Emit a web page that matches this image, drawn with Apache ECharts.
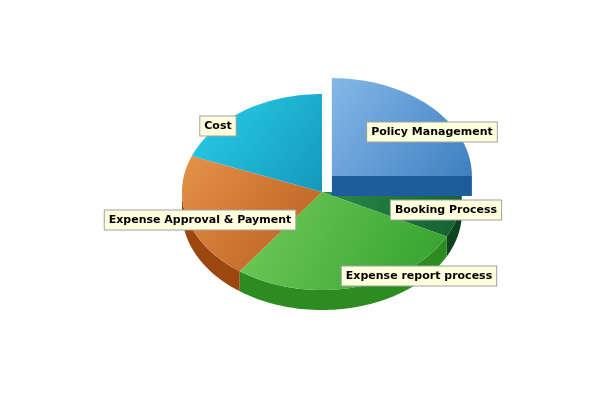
<!DOCTYPE html>
<html>
<head>
<meta charset="utf-8">
<script src="https://cdn.jsdelivr.net/npm/echarts@6/dist/echarts.min.js"></script>
<style>html,body{margin:0;background:#fff}#chart{width:600px;height:400px}</style>
</head>
<body>
<div id="chart"></div>
<script>
const categories = ['Policy Management', 'Booking Process', 'Expense report process', 'Expense Approval & Payment', 'Cost'];
const values = [25, 7.5, 27.5, 21, 19];
const exploded = [true, false, false, false, false];

const topColors = [['#84b8e8', '#3f7fc0'], ['#2a8a4a', '#146030'], ['#72cc5a', '#32a02c'], ['#e6924a', '#b65c1c'], ['#2ad0ea', '#1498bc']];
const sideColors = ['#1f5c9c', '#0c4420', '#2c8c22', '#9c4610', '#107c98'];
const labelPos = [[432, 132], [446, 210], [419, 276], [200, 220], [218, 126]];

const cx = 322, cy = 192, rx = 140, ry = 98, depth = 20;

function arc(ox, oy, a1, a2, dy) {
    const pts = [];
    const n = Math.max(2, Math.ceil((a2 - a1) / 0.03));
    for (let i = 0; i <= n; i++) {
        const t = a1 + (a2 - a1) * i / n;
        pts.push([ox + rx * Math.cos(t), oy + dy + ry * Math.sin(t)]);
    }
    return pts;
}

function renderItem() {
    const total = values.reduce((a, b) => a + b, 0);
    const sides = [], tops = [], labels = [];
    let start = -Math.PI / 2;
    values.forEach((v, i) => {
        const end = start + v / total * Math.PI * 2;
        const mid = (start + end) / 2;
        const ox = cx + (exploded[i] ? 14 * Math.cos(mid) : 0);
        const oy = cy + (exploded[i] ? 14 * Math.sin(mid) : 0) - (exploded[i] ? 6 : 0);
        // front wall, only the part facing viewer (0..PI)
        const ranges = [[start, end], [start + 2 * Math.PI, end + 2 * Math.PI], [start - 2 * Math.PI, end - 2 * Math.PI]];
        ranges.forEach(([s, e]) => {
            const a = Math.max(s, 0), b = Math.min(e, Math.PI);
            if (b > a) {
                const up = arc(ox, oy, a, b, 0);
                const down = arc(ox, oy, a, b, depth).reverse();
                sides.push({ type: 'polygon', z2: exploded[i] ? 5 : 1, shape: { points: up.concat(down) }, style: { fill: sideColors[i] } });
            }
        });
        const pts = [[ox, oy]].concat(arc(ox, oy, start, end, 0));
        // inner walls for the exploded slice
        if (exploded[i]) {
            [start, end].forEach(t => {
                const p = [ox + rx * Math.cos(t), oy + ry * Math.sin(t)];
                sides.push({ type: 'polygon', z2: 5, shape: { points: [[ox, oy], p, [p[0], p[1] + depth], [ox, oy + depth]] }, style: { fill: sideColors[i] } });
            });
        }
        tops.push({
            type: 'polygon', z2: exploded[i] ? 6 : 2, shape: { points: pts },
            style: { fill: new echarts.graphic.LinearGradient(0, 0, 1, 1, [{ offset: 0, color: topColors[i][0] }, { offset: 1, color: topColors[i][1] }]) }
        });
        labels.push({
            type: 'text', z2: 10, x: labelPos[i][0], y: labelPos[i][1],
            style: {
                text: categories[i], align: 'center', verticalAlign: 'middle',
                font: 'bold 11px "DejaVu Sans"', fill: '#000',
                backgroundColor: '#ffffdd', borderColor: '#a0a0a0', borderWidth: 1, padding: [4, 4]
            }
        });
        start = end;
    });
    return { type: 'group', children: sides.concat(tops, labels) };
}

const chart = echarts.init(document.getElementById('chart'));
chart.setOption({
    animation: false,
    xAxis: { show: false, type: 'value' },
    yAxis: { show: false, type: 'value' },
    grid: { left: 0, right: 0, top: 0, bottom: 0 },
    series: [{ type: 'custom', coordinateSystem: 'none', data: [0], renderItem: renderItem }]
});
</script>
</body>
</html>
